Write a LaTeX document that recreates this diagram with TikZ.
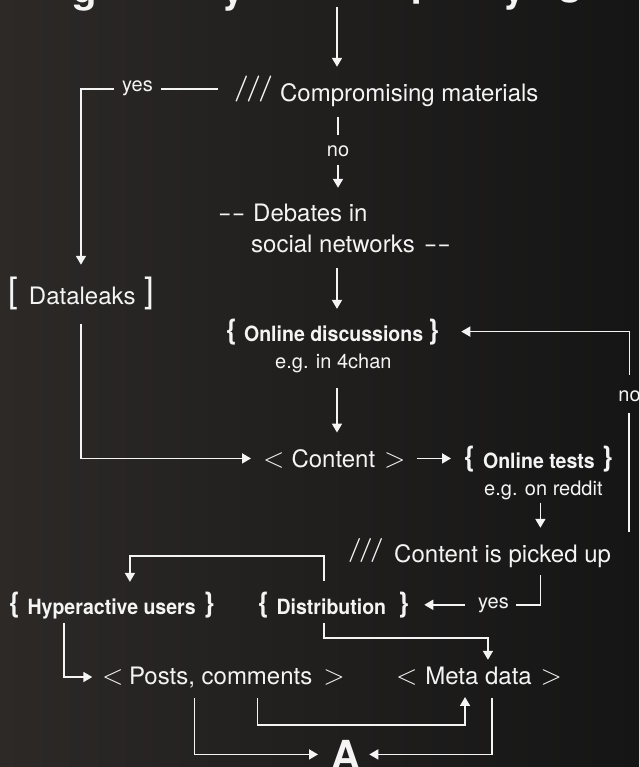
\documentclass[tikz,border=0pt]{standalone}
\usepackage{fontspec}
\usepackage{graphicx}
\newfontfamily\hv{TeX Gyre Heros}
\usetikzlibrary{arrows.meta}
\definecolor{fg}{HTML}{F4F4F4}
\definecolor{bgL}{HTML}{2C2927}
\definecolor{bgR}{HTML}{151515}
\newcommand\sz[1]{\fontsize{#1}{#1}\selectfont}
\newcommand\ltsign{{\normalfont\sz{28}<}}
\newcommand\gtsign{{\normalfont\sz{28}>}}
\newcommand\slashes[1]{{\normalfont\bfseries\sz{#1}\raisebox{0.25em}{/\kern-2.5pt/\kern-2.5pt/}}}
\newcommand\lbr{{\bfseries\sz{28}\raisebox{2pt}{\{}}}
\newcommand\rbr{{\bfseries\sz{28}\raisebox{2pt}{\}}}}
\newcommand\bt[1]{\scalebox{0.93}[1]{#1}}
\newcommand\ddash{\scalebox{1.7}[1]{-{}-}}
\newcommand\sqb[1]{{\sz{35}\raisebox{1.5pt}{#1}}}
\tikzset{
  lbl/.style={inner sep=0pt, anchor=base west, text=fg, font=\hv\sz{24}},
  bld/.style={inner sep=0pt, anchor=base west, text=fg, font=\hv\bfseries\sz{21}},
  sml/.style={inner sep=0pt, text=fg, font=\hv\sz{20}},
  ttl/.style={inner sep=0pt, anchor=base west, text=fg, font=\hv\bfseries\sz{40}},
  conn/.style={draw=fg, line width=1.7pt},
  arr/.style={conn, -{Triangle[width=10pt,length=9pt]}},
}
\begin{document}
\begin{tikzpicture}[x=1pt,y=-1pt]
\shade[left color=bgL, right color=bgR] (0,0) rectangle (639,767);
\useasboundingbox (0,0) rectangle (639,767);
% cut-off title fragments
\node[ttl] (t1) at (72,3) {g};
\node[ttl] (t2) at (222,3) {y};
\node[ttl] (t3) at (411,-4.5) {p};
\node[ttl] (t4) at (503,2) {y};
\node[ttl] (t5) at (558,-5.5) {g};
\coordinate (top) at (337,7);
\coordinate (noend) at (629,532);

\node[lbl] (comp) at (234,102) {\slashes{26}\hspace{7pt}Compromising materials};
\node[sml, anchor=base west] (yes1) at (122,92) {yes};
\node[sml, anchor=base] (no1) at (338,157) {no};
\node[lbl] (deb1) at (218,222) {\ddash\hspace{7.8pt}Debates in};
\node[lbl] (deb2) at (251,252) {social networks\hspace{9pt}\ddash};
\node[lbl] (dl) at (8,304) {\sqb{[}\hspace{11pt}Dataleaks\hspace{8.5pt}\sqb{]}};
\node[bld] (ondisc) at (226,341) {\lbr\hspace{7pt}\bt{Online discussions}\hspace{5pt}\rbr};
\node[sml, anchor=base west] (eg1) at (275,368) {e.g. in 4chan};
\node[lbl] (content) at (263,467) {\ltsign\hspace{7pt}Content\hspace{8.9pt}\gtsign};
\node[bld] (otests) at (464,468) {\lbr\hspace{8pt}\bt{Online tests}\hspace{7pt}\rbr};
\node[sml, anchor=base west] (eg2) at (484,495) {e.g. on reddit};
\node[sml, anchor=base] (no2) at (629.5,401) {no};
\node[lbl] (picked) at (348,562) {\slashes{24}\hspace{10.5pt}Content is picked up};
\node[sml, anchor=base west] (yes2) at (478,608) {yes};
\node[bld] (distr) at (258,614) {\lbr\hspace{7.5pt}\bt{Distribution}\hspace{12pt}\rbr};
\node[bld] (hyper) at (9,614) {\lbr\hspace{7.5pt}\bt{Hyperactive users}\hspace{8pt}\rbr};
\node[lbl] (posts) at (102,684) {\ltsign\hspace{5.5pt}Posts, comments\hspace{11pt}\gtsign};
\node[lbl] (meta) at (396,684) {\ltsign\hspace{7.8pt}Meta data\hspace{8.7pt}\gtsign};
\node[inner sep=0pt, anchor=base west, text=fg, font=\hv\bfseries\sz{40}] (A) at (331,769) {A};

% connectors
\draw[arr, shorten >=9pt] (top) -- (top |- comp.north);
\draw[conn, shorten <=16pt, shorten >=8pt] (comp.west |- yes1) -- (yes1.east);
\draw[arr, shorten <=8pt, shorten >=12pt] (yes1.west) -| (dl.north);
\draw[conn, shorten <=10pt, shorten >=11.4pt] (no1 |- comp.south) -- (no1.north);
\draw[arr, shorten <=8pt, shorten >=16.5pt] (no1.south) -- (no1.south |- deb1.north);
\draw[arr, shorten <=15pt, shorten >=9.5pt] (top |- deb2.south) -- (top |- ondisc.north);
\draw[arr, shorten <=15.8pt, shorten >=16.3pt] (top |- eg1.south) -- (top |- content.north);
\draw[arr, shorten <=14pt, shorten >=12pt] (dl.south) |- (content.west);
\draw[arr, shorten <=11.5pt, shorten >=13pt] (content.east) -- (content.east -| otests.west);
\draw[arr, shorten <=3pt, shorten >=10pt] ([xshift=-3pt]eg2.south) -- ([xshift=-3pt]eg2.south |- picked.north);
\draw[conn, shorten >=11pt] (noend) -- (noend |- no2.south);
\draw[arr, shorten <=15.4pt, shorten >=22pt] (no2.north) |- (ondisc.east);
\draw[conn, shorten <=8pt, shorten >=7pt] ([xshift=-3pt]eg2.south |- picked.south) |- (yes2.east);
\draw[arr, shorten <=13pt, shorten >=15pt] (yes2.west) -- (yes2.west -| distr.east);
\draw[arr, shorten <=10.5pt, shorten >=9.5pt] ([xshift=-9.6pt]distr.north) -- ++(0,-35.5) -| ([xshift=18pt]hyper.north);
\draw[arr, shorten <=5pt, shorten >=6.5pt] ([xshift=-9.6pt]distr.south) -- ++(0,20) -| ([xshift=8.9pt]meta.north);
\draw[arr, shorten <=4pt, shorten >=9.7pt] ([xshift=-48pt]hyper.south) |- (posts.west);
\draw[arr, shorten <=10.5pt, shorten >=12pt] ([xshift=34pt]posts.south) -- ++(0,37.5) -| ([xshift=-14pt]meta.south);
\draw[arr, shorten <=10.5pt, shorten >=13pt] ([xshift=-29pt]posts.south) |- (A.west);
\draw[arr, shorten <=13pt, shorten >=9pt] ([xshift=13pt]meta.south) |- (A.east);
\end{tikzpicture}
\end{document}
